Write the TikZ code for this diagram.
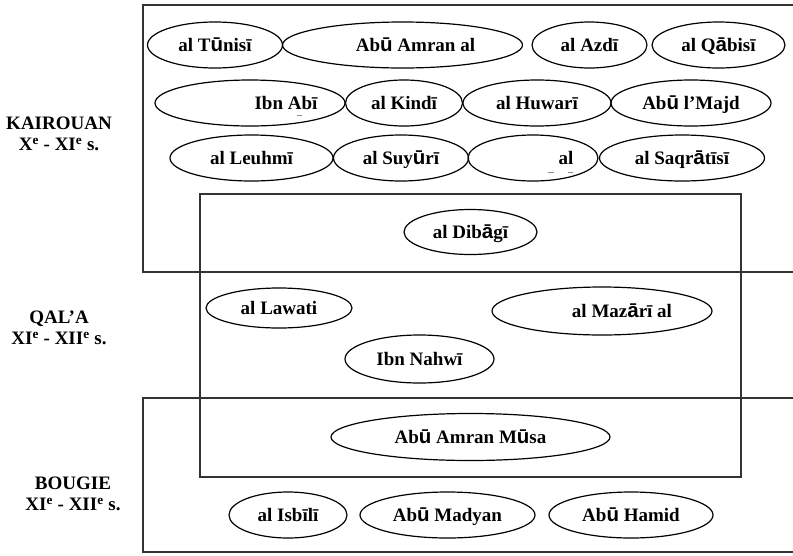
\documentclass[tikz,border=0pt]{standalone}
\usepackage{fontspec}
\setmainfont{Liberation Serif}
\newfontfamily\sansfam{Liberation Sans}
\usetikzlibrary{shapes.geometric}
\newcommand\su{{\sansfam\fontsize{20.5}{21}\selectfont ū}}
\newcommand\sa{{\sansfam\fontsize{20.5}{21}\selectfont ā}}
\newcommand\ellnode[7]{%
  \node[ell, minimum width=#4pt, minimum height=#5pt] (#1) at (#2,#3) {};
  \node[txt] (#1-t) at ([xshift=#6pt]#1.center) {#7};}
\begin{document}
\begin{tikzpicture}[x=1pt,y=-1pt,
  ell/.style={draw=black, line width=1.2pt, ellipse, inner sep=0pt},
  txt/.style={font=\fontsize{19}{21}\selectfont\bfseries, inner sep=0pt, text height=13pt, text depth=0pt},
  frame/.style={draw=black!80, line width=1.4pt},
  lbl/.style={font=\fontsize{19}{21}\selectfont\bfseries, align=center, inner sep=0pt},
  stray/.style={draw=black!45, line width=0.8pt}]
\useasboundingbox (0,0) rectangle (793,555);
% frames
\draw[frame] (143,5) rectangle (810,272);
\draw[frame] (200,194) rectangle (741,477);
\draw[frame] (143,398) rectangle (810,552);
% period labels
\node[lbl] (kairouan) at (59,134) {KAIROUAN\\X\textsuperscript{e} - XI\textsuperscript{e} s.};
\node[lbl] (qala) at (59,328) {QAL’A\\XI\textsuperscript{e} - XII\textsuperscript{e} s.};
\node[lbl] (bougie) at (73,494) {BOUGIE\\XI\textsuperscript{e} - XII\textsuperscript{e} s.};
% row 1
\ellnode{tunisi}{215}{45}{135}{46}{0}{al T\su nisī}
\ellnode{abuamran}{402.5}{45}{240}{46}{13}{Ab\su{} Amran al}
\ellnode{azdi}{589.5}{45}{115}{46}{0}{al Azdī}
\ellnode{qabisi}{718.5}{45}{133}{46}{0}{al Q\sa bisī}
% row 2
\ellnode{ibnabi}{250}{103}{190}{46}{36}{Ibn Abī}
\ellnode{kindi}{404}{103}{117}{46}{0}{al Kindī}
\ellnode{huwari}{537}{103}{148}{46}{0}{al Huwarī}
\ellnode{majd}{691}{103}{160}{46}{0}{Ab\su{} l’Majd}
% row 3
\ellnode{leuhmi}{251.5}{158}{163}{46}{0}{al Leuhmī}
\ellnode{suyuri}{401}{158}{135}{46}{0}{al Suy\su rī}
\ellnode{blank}{533}{158}{130}{46}{33}{al}
\ellnode{saqratisi}{682}{158}{165}{46}{0}{al Saqr\sa tīsī}
% stray marks
\draw[stray] ([xshift=47pt,yshift=-12pt]ibnabi.center) -- ([xshift=52pt,yshift=-12pt]ibnabi.center);
\draw[stray] ([xshift=15pt,yshift=-14pt]blank.center) -- ([xshift=21pt,yshift=-14pt]blank.center);
\draw[stray] ([xshift=35pt,yshift=-14pt]blank.center) -- ([xshift=40pt,yshift=-14pt]blank.center);
% middle
\ellnode{dibagi}{470.5}{232}{133}{45}{0}{al Dib\sa gī}
\ellnode{lawati}{279}{308}{146}{40}{0}{al Lawati}
\ellnode{mazari}{602}{311}{220}{48}{20}{al Maz\sa rī al}
\ellnode{nahwi}{419.5}{359}{149}{48}{0}{Ibn Nahwī}
\ellnode{musa}{470.5}{437}{279}{47}{0}{Ab\su{} Amran M\su sa}
% bottom row
\ellnode{isbili}{288}{515}{118}{46}{0}{al Isbīlī}
\ellnode{madyan}{447.5}{515}{175}{46}{0}{Ab\su{} Madyan}
\ellnode{hamid}{631}{515}{164}{46}{0}{Ab\su{} Hamid}
\end{tikzpicture}
\end{document}
